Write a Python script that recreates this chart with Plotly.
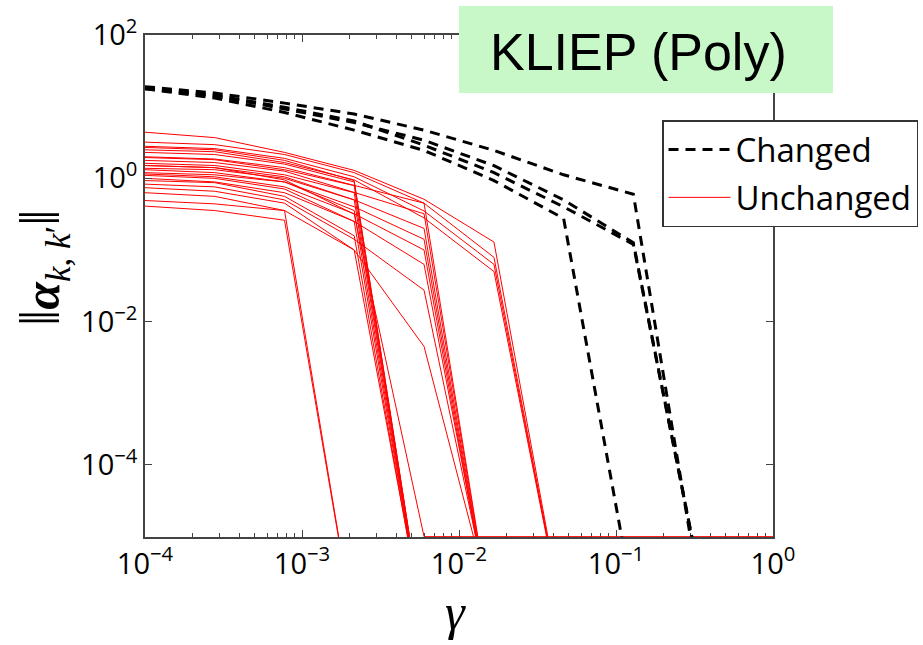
import plotly.graph_objects as go

# Regularisation path: gamma grid (log-spaced) and group norms ||alpha_{k,k'}||
gamma = [1e-4, 2.78e-4, 7.74e-4, 2.15e-3, 5.99e-3, 1.67e-2, 4.64e-2, 1.29e-1, 3.59e-1, 1.0]

# Edges whose dependency structure changed
changed = [
    [19.0, 15.5, 11.2, 7.9, 4.7, 2.45, 1.12, 0.60, 8.5e-7, 8.5e-7],
    [17.8, 14.1, 9.3, 6.0, 3.4, 1.5, 0.50, 0.126, 1.6e-6, 1.6e-6],
    [18.2, 14.5, 9.8, 6.3, 2.9, 1.2, 0.40, 0.12, 1.6e-6, 1.6e-6],
    [17.8, 13.2, 8.3, 4.7, 2.45, 0.93, 0.275, 1.26e-6, 1.26e-6, 1.26e-6],
]

# Edges that stayed the same
unchanged = [
    [4.4, 3.7, 2.3, 1.29, 0.51, 0.129, 6.3e-7, 6.3e-7, 6.3e-7, 6.3e-7],
    [3.2, 2.95, 2.15, 1.2, 0.45, 0.079, 6.3e-7, 6.3e-7, 6.3e-7, 6.3e-7],
    [2.8, 2.6, 1.9, 1.05, 0.35, 0.063, 6.3e-7, 6.3e-7, 6.3e-7, 6.3e-7],
    [2.5, 2.35, 1.66, 0.95, 0.28, 0.05, 6.3e-7, 6.3e-7, 6.3e-7, 6.3e-7],
    [2.0, 1.86, 1.41, 0.79, 0.45, 4e-7, 4e-7, 4e-7, 4e-7, 4e-7],
    [1.78, 1.66, 1.26, 0.63, 0.32, 4e-7, 4e-7, 4e-7, 4e-7, 4e-7],
    [1.51, 1.41, 1.05, 0.5, 0.2, 4e-7, 4e-7, 4e-7, 4e-7, 4e-7],
    [1.32, 1.2, 0.89, 0.4, 0.141, 4e-7, 4e-7, 4e-7, 4e-7, 4e-7],
    [1.15, 1.05, 0.76, 0.32, 0.1, 4e-7, 4e-7, 4e-7, 4e-7, 4e-7],
    [1.0, 0.89, 0.63, 0.25, 0.063, 5e-7, 5e-7, 5e-7, 5e-7, 5e-7],
    [0.83, 0.76, 0.5, 0.141, 0.0275, 6e-7, 6e-7, 6e-7, 6e-7, 6e-7],
    [0.63, 0.56, 0.355, 0.1, 0.0045, 8e-7, 8e-7, 8e-7, 8e-7, 8e-7],
    [2.7, 2.5, 1.78, 0.93, 5e-7, 5e-7, 5e-7, 5e-7, 5e-7, 5e-7],
    [2.3, 2.15, 1.58, 0.89, 5e-7, 5e-7, 5e-7, 5e-7, 5e-7, 5e-7],
    [1.95, 1.82, 1.32, 0.79, 5e-7, 5e-7, 5e-7, 5e-7, 5e-7, 5e-7],
    [1.62, 1.51, 1.12, 0.63, 5e-7, 5e-7, 5e-7, 5e-7, 5e-7, 5e-7],
    [1.38, 1.32, 1.0, 0.5, 5e-7, 5e-7, 5e-7, 5e-7, 5e-7, 5e-7],
    [1.2, 1.12, 0.89, 0.355, 5e-7, 5e-7, 5e-7, 5e-7, 5e-7, 5e-7],
    [1.1, 1.0, 0.71, 0.25, 5e-7, 5e-7, 5e-7, 5e-7, 5e-7, 5e-7],
    [0.93, 0.87, 0.56, 0.158, 5e-7, 5e-7, 5e-7, 5e-7, 5e-7, 5e-7],
    [0.74, 0.66, 0.45, 0.1, 6e-7, 6e-7, 6e-7, 6e-7, 6e-7, 6e-7],
    [1.51, 1.41, 0.95, 0.316, 1e-5, 1e-5, 1e-5, 1e-5, 1e-5, 1e-5],
    [0.49, 0.44, 0.355, 5e-7, 5e-7, 5e-7, 5e-7, 5e-7, 5e-7, 5e-7],
    [0.41, 0.355, 0.26, 5e-7, 5e-7, 5e-7, 5e-7, 5e-7, 5e-7, 5e-7],
]

x_ticks = [1e-4, 1e-3, 1e-2, 1e-1, 1.0]
x_ticktext = ["10<sup>−4</sup>", "10<sup>−3</sup>", "10<sup>−2</sup>", "10<sup>−1</sup>", "10<sup>0</sup>"]
y_ticks = [1e-4, 1e-2, 1.0, 1e2]
y_ticktext = ["10<sup>−4</sup>", "10<sup>−2</sup>", "10<sup>0</sup>", "10<sup>2</sup>"]
x_minor = [m * 10.0 ** e for e in (-4, -3, -2, -1) for m in range(2, 10)]

fig = go.Figure()

for i, ys in enumerate(unchanged):
    fig.add_trace(go.Scatter(
        x=gamma, y=ys, mode="lines", name="Unchanged",
        legendgroup="unchanged", showlegend=(i == 0),
        line=dict(color="#ff0000", width=1),
        legendrank=2,
    ))

for i, ys in enumerate(changed):
    fig.add_trace(go.Scatter(
        x=gamma, y=ys, mode="lines", name="Changed",
        legendgroup="changed", showlegend=(i == 0),
        line=dict(color="black", width=3, dash="10px,7px"),
        legendrank=1,
    ))

axis_common = dict(
    type="log", showgrid=False, zeroline=False,
    showline=True, linecolor="#444", linewidth=1.5, mirror="ticks",
    ticks="inside", ticklen=7, tickcolor="#444", tickwidth=1,
    tickfont=dict(family="Open Sans", size=29, color="black"),
)

fig.update_xaxes(
    **axis_common, range=[-4, 0], tickvals=x_ticks, ticktext=x_ticktext,
    minor=dict(ticks="inside", ticklen=4, tickcolor="#444", tickvals=x_minor),
    layer="below traces",
)
fig.update_yaxes(
    **axis_common, range=[-5.005, 2], tickvals=y_ticks, ticktext=y_ticktext,
)

L, R, T, B = 145, 150, 35, 108
W, H = 923, 645
pw, ph = W - L - R, H - T - B


def px(xp):
    return (xp - L) / pw


def py(yp):
    return (H - B - yp) / ph


# Title box
fig.add_shape(type="rect", xref="paper", yref="paper",
              x0=px(459), x1=px(833), y0=py(93), y1=py(6),
              fillcolor="#c8f8c8", line=dict(width=0), layer="above")
fig.add_annotation(x=px(638), y=py(52), xref="paper", yref="paper",
                   text="KLIEP (Poly)", showarrow=False,
                   font=dict(family="Liberation Sans, Arial", size=52, color="black"),
                   xanchor="center", yanchor="middle")

# Axis labels
fig.add_annotation(x=px(455), y=py(612), xref="paper", yref="paper",
                   text="<i>γ</i>", showarrow=False,
                   font=dict(family="Liberation Serif", size=50, color="black"),
                   xanchor="center", yanchor="middle")
fig.add_annotation(x=px(42), y=py(268), xref="paper", yref="paper",
                   text=("<span style='font-size:58px'>‖</span><b><i>α</i></b>"
                         "<sub><i>k</i>, <i>k</i>′</sub>"
                         "<span style='font-size:58px'>‖</span>"),
                   showarrow=False, textangle=-90,
                   font=dict(family="Liberation Serif", size=50, color="black"),
                   xanchor="center", yanchor="middle")

fig.update_layout(
    width=W, height=H,
    margin=dict(l=L, r=R, t=T, b=B, autoexpand=False),
    paper_bgcolor="white", plot_bgcolor="white",
    showlegend=True,
    legend=dict(
        x=px(662), y=py(120), xanchor="left", yanchor="top",
        bgcolor="white", bordercolor="#333", borderwidth=1.5,
        font=dict(family="Open Sans", size=33, color="black"),
        tracegroupgap=2, itemwidth=62,
    ),
)

fig.write_html("out.html")
